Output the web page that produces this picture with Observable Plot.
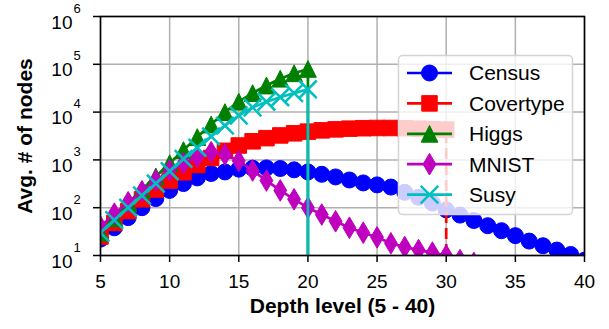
<!DOCTYPE html>
<html><head><meta charset="utf-8">
<script src="https://cdn.jsdelivr.net/npm/d3@7"></script>
<script src="https://cdn.jsdelivr.net/npm/@observablehq/plot@0.6"></script>
<style>
html,body{margin:0;padding:0;background:#fff;}
#wrap{position:relative;width:609px;height:329px;}
#wrap svg.ovl{position:absolute;left:0;top:0;pointer-events:none;}
</style></head><body><div id="wrap"></div>
<script>
// ---- data ----
const depthTicks = [5, 10, 15, 20, 25, 30, 35, 40];
const yExponents = [1, 2, 3, 4, 5, 6];
const seriesNames = ["Census", "Covertype", "Higgs", "MNIST", "Susy"];
const seriesColors = ["#0000ff", "#ff0000", "#008000", "#bf00bf", "#00bfbf"];
const startDepth = 5;
const census = [22,38,62,100,155,230,320,420,520,560,640,670,680,660,620,560,500,440,380,330,300,270,210,165,125,90,70,54,42,33,26,20,16,13,10.5,8];
const covertype = [25,48,85,150,240,370,550,780,1100,1550,2000,2450,2850,3250,3600,3900,4150,4350,4500,4600,4650,4650,4600,4500,4400,4300];
const higgs = [30,60,125,240,450,850,1600,3000,5500,10000,16500,25000,36000,50000,65000,80000];
const mnist = [40,75,130,220,370,600,850,1150,1450,1300,950,600,370,230,150,100,72,52,38,30,24,18,15,13,11.5,10,8,7];
const susy = [30,55,100,180,320,580,1050,1800,3100,5200,8500,12500,16500,20500,25000,30000];
const seriesValues = [census, covertype, higgs, mnist, susy];
const dashes = [null, "11,5", null, null, null];
const xLabel = "Depth level (5 - 40)";
const yLabel = "Avg. # of nodes";

// ---- marker symbols (matplotlib-like) ----
const R = 8;
const symbols = [
  {draw(c, s){const r=Math.sqrt(s/Math.PI); c.moveTo(r,0); c.arc(0,0,r,0,2*Math.PI); c.closePath();}},
  {draw(c, s){const r=Math.sqrt(s/Math.PI)*0.97; c.moveTo(-r,-r); c.lineTo(r,-r); c.lineTo(r,r); c.lineTo(-r,r); c.closePath();}},
  {draw(c, s){const r=Math.sqrt(s/Math.PI)*1.05; c.moveTo(0,-r); c.lineTo(r,r); c.lineTo(-r,r); c.closePath();}},
  {draw(c, s){const r=Math.sqrt(s/Math.PI); const h=r*1.35, w=r*0.8; c.moveTo(0,-h); c.lineTo(w,0); c.lineTo(0,h); c.lineTo(-w,0); c.closePath();}},
  {draw(c, s){const r=Math.sqrt(s/Math.PI)*1.1; c.moveTo(-r,-r); c.lineTo(r,r); c.moveTo(-r,r); c.lineTo(r,-r);}}
];

const records = seriesValues.map((vals, i) => vals.map((v, j) => ({name: seriesNames[i], depth: startDepth + j, value: v})));
const FONT = "'Liberation Sans', Arial, Helvetica, sans-serif";

const marks = [
  Plot.gridX(depthTicks, {stroke: "#b0b0b0", strokeOpacity: 1, strokeWidth: 1.5}),
  Plot.gridY(yExponents.map(e => 10 ** e), {stroke: "#b0b0b0", strokeOpacity: 1, strokeWidth: 1.5}),
];
records.forEach((rec, i) => {
  const last = rec[rec.length - 1];
  const col = seriesColors[i];
  marks.push(Plot.line(rec, {x: "depth", y: "value", stroke: col, strokeWidth: 2.7, strokeDasharray: dashes[i], clip: "frame"}));
  if (last.value > 10) {
    marks.push(Plot.ruleX([last], {x: "depth", y1: 10, y2: "value", stroke: col, strokeWidth: 2.7, strokeDasharray: dashes[i], clip: "frame"}));
  }
  if (i === 4) {
    marks.push(Plot.dot(rec, {x: "depth", y: "value", r: R, symbol: symbols[i], fill: "none", stroke: col, strokeWidth: 2.5, clip: "frame"}));
  } else {
    marks.push(Plot.dot(rec, {x: "depth", y: "value", r: R, symbol: symbols[i], fill: col, stroke: col, strokeWidth: 1, clip: "frame"}));
  }
});
marks.push(
  Plot.frame({stroke: "black", strokeWidth: 1.6}),
  Plot.axisX(depthTicks, {tickSize: 7, tickPadding: 12, fontSize: 19, strokeWidth: 1.5, label: null}),
  Plot.axisY(yExponents.map(e => 10 ** e), {tickSize: 7, tickFormat: () => "", strokeWidth: 1.5, label: null}),
  Plot.text(yExponents, {y: e => 10 ** e, frameAnchor: "left", text: () => "10", dx: -28, dy: 6, textAnchor: "end", fontSize: 19}),
  Plot.text(yExponents, {y: e => 10 ** e, frameAnchor: "left", text: e => String(e), dx: -27, dy: -8, textAnchor: "start", fontSize: 13}),
  Plot.text([xLabel], {frameAnchor: "bottom", text: d => d, dy: 57, fontSize: 21, fontWeight: "bold"}),
  Plot.text([yLabel], {frameAnchor: "left", text: d => d, dx: -75, rotate: -90, textAnchor: "middle", lineAnchor: "middle", fontSize: 21, fontWeight: "bold"})
);

const chart = Plot.plot({
  width: 609, height: 329,
  marginLeft: 100, marginRight: 25, marginTop: 16, marginBottom: 74,
  x: {domain: [5, 40]},
  y: {type: "log", domain: [10, 1e6]},
  style: {fontFamily: FONT, background: "white", color: "black", overflow: "visible"},
  marks
});
const wrap = document.getElementById("wrap");
wrap.appendChild(chart);

// ---- legend overlay ----
const lg = d3.select(wrap).append("svg").attr("class", "ovl").attr("width", 609).attr("height", 329);
lg.append("rect").attr("x", 398.5).attr("y", 55.5).attr("width", 174).attr("height", 159).attr("rx", 4)
  .attr("fill", "white").attr("fill-opacity", 0.8).attr("stroke", "#d4d4d4").attr("stroke-width", 1.5);
seriesNames.forEach((name, i) => {
  const y = 73 + i * 30.4;
  const g = lg.append("g");
  g.append("line").attr("x1", 407).attr("x2", 452).attr("y1", y).attr("y2", y)
    .attr("stroke", seriesColors[i]).attr("stroke-width", 2.7);
  g.append("path").attr("transform", `translate(429.5,${y})`)
    .attr("d", d3.symbol(symbols[i], R * R * Math.PI)())
    .attr("fill", i === 4 ? "none" : seriesColors[i]).attr("stroke", seriesColors[i]).attr("stroke-width", i === 4 ? 2.5 : 1);
  g.append("text").attr("x", 469).attr("y", y).attr("dy", "0.35em").attr("font-family", FONT).attr("font-size", 21).attr("fill", "black").text(name);
});
</script></body></html>
